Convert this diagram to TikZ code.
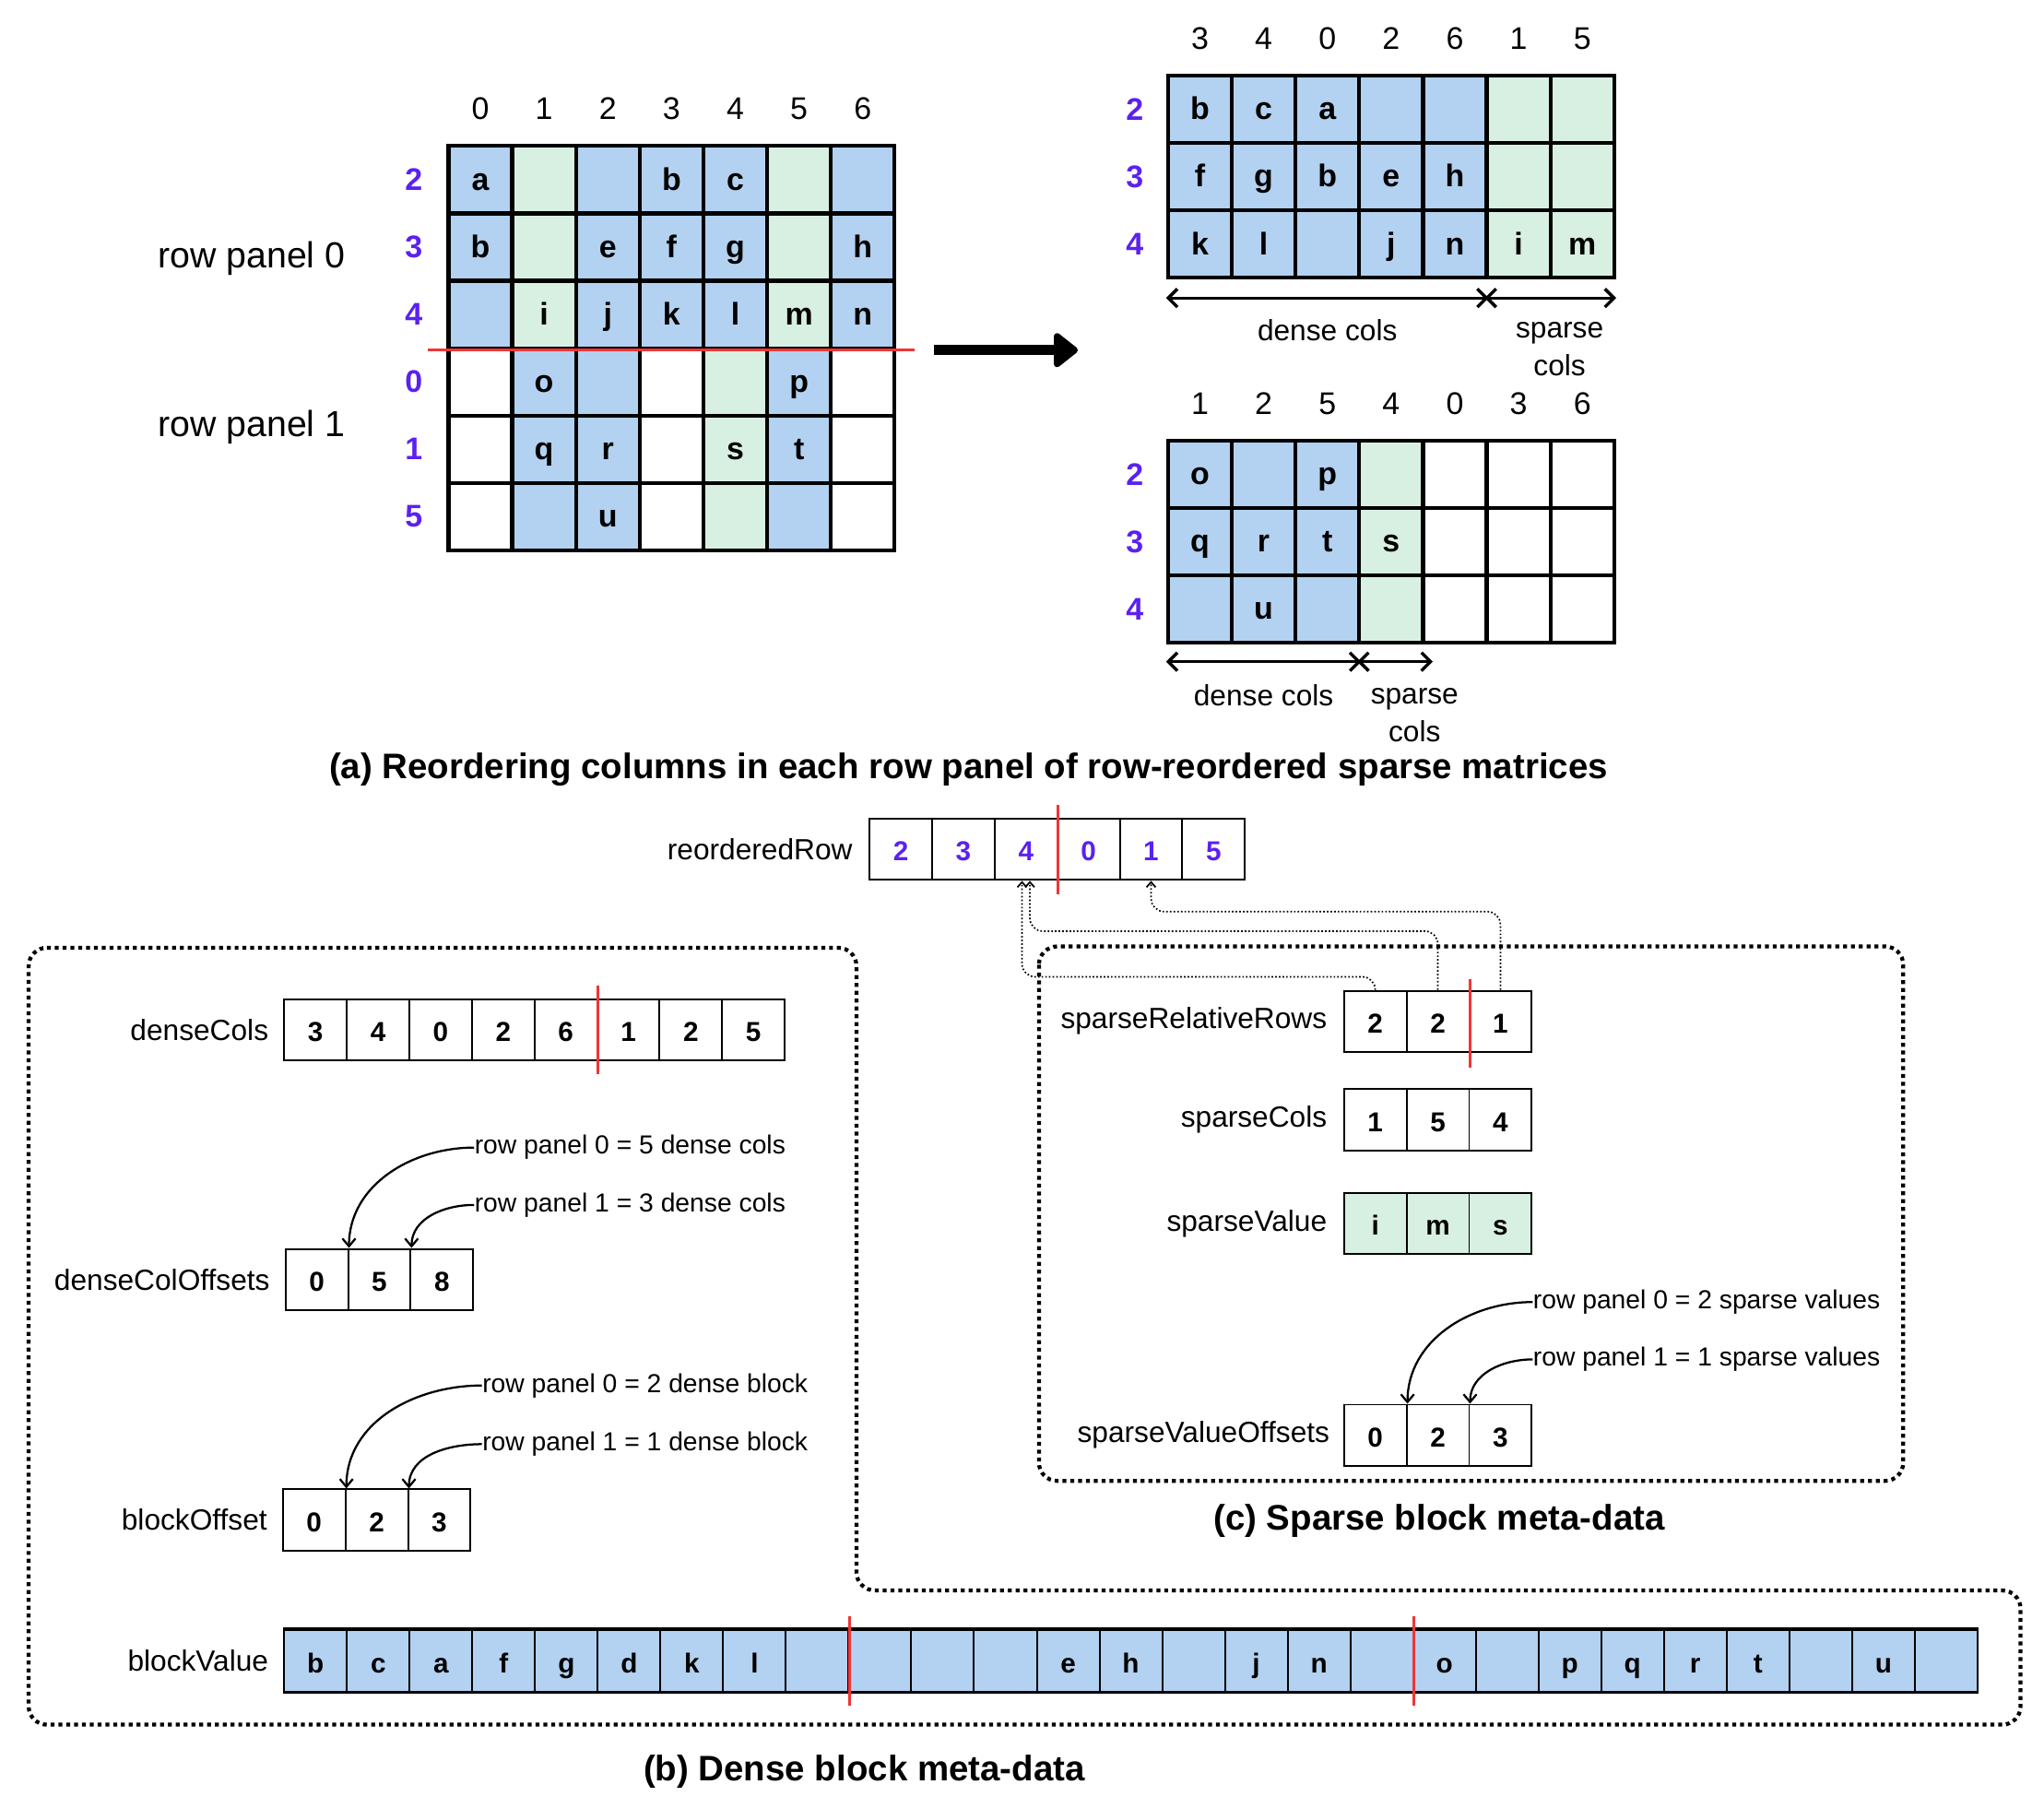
\documentclass[tikz,border=0pt]{standalone}
\usepackage{fontspec}
\setmainfont{Liberation Sans}
\usetikzlibrary{calc}
\usetikzlibrary{positioning}
\usetikzlibrary{arrows.meta}

\definecolor{cellB}{HTML}{B3D1F0}
\definecolor{cellG}{HTML}{D8F0E1}
\definecolor{cellW}{HTML}{FFFFFF}
\definecolor{rowid}{HTML}{5B21F0}
\definecolor{cutred}{HTML}{F03535}

\tikzset{
  mycell/.style={
    draw=black,
    line width=1.5pt,
    minimum width=24.45pt,
    minimum height=25.85pt,
    inner sep=0pt,
    text height=9.5pt,
    text depth=1.5pt,
    font=\fontsize{12}{14}\selectfont\bfseries
  },
  myarray/.style={
    draw=black,
    line width=0.7pt,
    minimum width=24pt,
    minimum height=23.5pt,
    inner sep=0pt,
    text height=10pt,
    text depth=1pt,
    font=\fontsize{10.5}{12}\selectfont\bfseries
  },
  myhead/.style={
    inner sep=0pt,
    font=\fontsize{12}{14}\selectfont
  },
  myrowid/.style={
    inner sep=0pt,
    text=rowid,
    font=\fontsize{12}{14}\selectfont\bfseries
  },
  mylabel/.style={
    inner sep=0pt,
    font=\fontsize{11.2}{14.5}\selectfont
  },
  mynote/.style={
    inner sep=0pt,
    anchor=west,
    font=\fontsize{10}{12}\selectfont
  },
  myarrow/.style={
    line width=0.8pt,
    -{Straight Barb[length=3pt,width=5pt]}
  },
  mycut/.style={
    draw=cutred,
    line width=1pt
  },
  myspan/.style={
    line width=1.2pt,
    {Straight Barb[length=3.5pt,width=7pt]}-{Straight Barb[length=3.5pt,width=7pt]}
  },
  mybox/.style={
    line width=1.5pt,
    dash pattern=on 1.5pt off 1.5pt,
    rounded corners=7pt
  },
  mylink/.style={
    line width=0.6pt,
    dash pattern=on 0.6pt off 0.8pt,
    rounded corners=5pt,
    -{Straight Barb[length=2pt,width=3.5pt]}
  },
  mycaption/.style={
    inner sep=0pt,
    font=\fontsize{13.6}{16}\selectfont\bfseries
  },
}

\begin{document}
\begin{tikzpicture}[x=0.5pt, y=-0.5pt]
  \useasboundingbox (0,0) rectangle (1568,1396);

  % original matrix
  \foreach \r/\cells in {
    0/{B/a,G/{},B/{},B/b,B/c,G/{},B/{}},
    1/{B/b,G/{},B/e,B/f,B/g,G/{},B/h},
    2/{B/{},G/i,B/j,B/k,B/l,G/m,B/n},
    3/{W/{},B/o,B/{},W/{},G/{},B/p,W/{}},
    4/{W/{},B/q,B/r,W/{},G/s,B/t,W/{}},
    5/{W/{},B/{},B/u,W/{},G/{},B/{},W/{}}} {
    \foreach \f/\t [count=\c from 0] in \cells {
      \node[mycell, fill=cell\f] (orig-\r-\c) at ({368.45+48.9*\c},{137.85+51.7*\r}) {\t};
    }
  }
  \foreach \lab [count=\c from 0] in {0,1,2,3,4,5,6}
    \node[myhead] (orig-h\c) at ([yshift=13.5pt]orig-0-\c.north) {\lab};
  \foreach \lab [count=\r from 0] in {2,3,4,0,1,5}
    \node[myrowid] (orig-r\r) at ([xshift=-12.5pt]orig-\r-0.west) {\lab};
  \draw[mycut] ([xshift=-7pt]orig-2-0.south west) -- ([xshift=7pt]orig-2-6.south east);

  \node[mylabel, font=\fontsize{13.9}{16}\selectfont] (panel0) at (193,198) {row panel 0};
  \node[mylabel, font=\fontsize{13.9}{16}\selectfont] (panel1) at (193,328) {row panel 1};

  \coordinate (shift-from) at ([xshift=14.5pt]orig-2-6.south east);
  \coordinate (shift-to)   at ([xshift=55pt]shift-from);
  \draw[line width=4pt, -{Triangle[length=10pt,width=15pt,round]}] (shift-from) -- (shift-to);

  % row panel 0 after reordering
  \foreach \r/\cells in {
    0/{B/b,B/c,B/a,B/{},B/{},G/{},G/{}},
    1/{B/f,B/g,B/b,B/e,B/h,G/{},G/{}},
    2/{B/k,B/l,B/{},B/j,B/n,G/i,G/m}} {
    \foreach \f/\t [count=\c from 0] in \cells {
      \node[mycell, fill=cell\f] (rp0-\r-\c) at ({920.45+48.9*\c},{83.85+51.7*\r}) {\t};
    }
  }
  \foreach \lab [count=\c from 0] in {3,4,0,2,6,1,5}
    \node[myhead] (rp0-h\c) at ([yshift=13.5pt]rp0-0-\c.north) {\lab};
  \foreach \lab [count=\r from 0] in {2,3,4}
    \node[myrowid] (rp0-r\r) at ([xshift=-12pt]rp0-\r-0.west) {\lab};
  \draw[myspan] ([yshift=-7pt]rp0-2-0.south west) -- ([yshift=-7pt]rp0-2-4.south east);
  \draw[myspan] ([yshift=-7pt]rp0-2-5.south west) -- ([yshift=-7pt]rp0-2-6.south east);
  \node[mylabel] (rp0-dense)  at ([yshift=-19.5pt]$(rp0-2-0.south west)!0.5!(rp0-2-4.south east)$) {dense cols};
  \node[mylabel, align=center] (rp0-sparse) at ([xshift=3.5pt,yshift=-26.75pt]$(rp0-2-5.south west)!0.5!(rp0-2-6.south east)$) {sparse\\cols};

  % row panel 1 after reordering
  \foreach \r/\cells in {
    0/{B/o,B/{},B/p,G/{},W/{},W/{},W/{}},
    1/{B/q,B/r,B/t,G/s,W/{},W/{},W/{}},
    2/{B/{},B/u,B/{},G/{},W/{},W/{},W/{}}} {
    \foreach \f/\t [count=\c from 0] in \cells {
      \node[mycell, fill=cell\f] (rp1-\r-\c) at ({920.45+48.9*\c},{363.85+51.7*\r}) {\t};
    }
  }
  \foreach \lab [count=\c from 0] in {1,2,5,4,0,3,6}
    \node[myhead] (rp1-h\c) at ([yshift=13.5pt]rp1-0-\c.north) {\lab};
  \foreach \lab [count=\r from 0] in {2,3,4}
    \node[myrowid] (rp1-r\r) at ([xshift=-12pt]rp1-\r-0.west) {\lab};
  \draw[myspan] ([yshift=-6.5pt]rp1-2-0.south west) -- ([yshift=-6.5pt]rp1-2-2.south east);
  \draw[myspan] ([yshift=-6.5pt]rp1-2-3.south west) -- ([xshift=3pt,yshift=-6.5pt]rp1-2-3.south east);
  \node[mylabel] (rp1-dense)  at ([yshift=-19.5pt]$(rp1-2-0.south west)!0.5!(rp1-2-2.south east)$) {dense cols};
  \node[mylabel, align=center] (rp1-sparse) at ([xshift=9pt,yshift=-27pt]rp1-2-3.south) {sparse\\cols};

  \node[mycaption] (cap-a) at (743,590) {(a) Reordering columns in each row panel of row-reordered sparse matrices};

  % reorderedRow
  \foreach \v [count=\i from 0] in {2,3,4,0,1,5}
    \node[myarray, text=rowid] (rr-\i) at ({691+48*\i},651.5) {\v};
  \node[mylabel, left=6pt of rr-0] (rr-label) {reorderedRow};
  \draw[mycut] ([yshift=5pt]rr-2.north east) -- ([yshift=-5pt]rr-2.south east);

  % dense block meta-data
  \foreach \v [count=\i from 0] in {3,4,0,2,6,1,2,5}
    \node[myarray] (dc-\i) at ({242+48*\i},790) {\v};
  \node[mylabel, left=5.5pt of dc-0] (dc-label) {denseCols};
  \draw[mycut] ([yshift=5pt]dc-4.north east) -- ([yshift=-5pt]dc-4.south east);

  \foreach \v [count=\i from 0] in {0,5,8}
    \node[myarray] (dco-\i) at ({243+48*\i},981.5) {\v};
  \node[mylabel, left=5.5pt of dco-0] (dco-label) {denseColOffsets};
  \node[mynote] (dco-note0) at ([yshift=38.5pt]dco-2.north east) {row panel 0 = 5 dense cols};
  \node[mynote] (dco-note1) at ([yshift=16.5pt]dco-2.north east) {row panel 1 = 3 dense cols};
  \draw[myarrow] (dco-note0.west) to[out=180, in=90] (dco-0.north east);
  \draw[myarrow] (dco-note1.west) to[out=180, in=90] (dco-1.north east);

  \foreach \v [count=\i from 0] in {0,2,3}
    \node[myarray] (bo-\i) at ({241+48*\i},1166) {\v};
  \node[mylabel, left=5.5pt of bo-0] (bo-label) {blockOffset};
  \node[mynote] (bo-note0) at ([xshift=4pt,yshift=39.5pt]bo-2.north east) {row panel 0 = 2 dense block};
  \node[mynote] (bo-note1) at ([xshift=4pt,yshift=17pt]bo-2.north east) {row panel 1 = 1 dense block};
  \draw[myarrow] (bo-note0.west) to[out=180, in=90] (bo-0.north east);
  \draw[myarrow] (bo-note1.west) to[out=180, in=90] (bo-1.north east);

  \foreach \v [count=\i from 0] in {b,c,a,f,g,d,k,l,{},{},{},{},e,h,{},j,n,{},o,{},p,q,r,t,{},u,{}}
    \node[myarray, fill=cellB, minimum width=24.05pt] (bv-\i) at ({242.05+48.11*\i},1274) {\v};
  \draw[line width=1.3pt] (bv-0.north west) -- (bv-26.north east);
  \draw[line width=1.3pt] (bv-0.south west) -- (bv-26.south east);
  \node[mylabel, left=5.5pt of bv-0] (bv-label) {blockValue};
  \draw[mycut] ([yshift=5pt]bv-8.north east) -- ([yshift=-5pt]bv-8.south east);
  \draw[mycut] ([yshift=5pt]bv-17.north east) -- ([yshift=-5pt]bv-17.south east);

  % sparse block meta-data
  \foreach \v [count=\i from 0] in {2,2,1}
    \node[myarray] (srr-\i) at ({1055+48*\i},783.5) {\v};
  \node[mylabel, left=6pt of srr-0] (srr-label) {sparseRelativeRows};
  \draw[mycut] ([yshift=4pt]srr-1.north east) -- ([yshift=-5.5pt]srr-1.south east);

  \foreach \v [count=\i from 0] in {1,5,4}
    \node[myarray] (sc-\i) at ({1055+48*\i},859) {\v};
  \node[mylabel, left=6pt of sc-0] (sc-label) {sparseCols};

  \foreach \v [count=\i from 0] in {i,m,s}
    \node[myarray, fill=cellG] (sv-\i) at ({1055+48*\i},938.5) {\v};
  \node[mylabel, left=6pt of sv-0] (sv-label) {sparseValue};

  \foreach \v [count=\i from 0] in {0,2,3}
    \node[myarray] (svo-\i) at ({1055+48*\i},1101) {\v};
  \node[mylabel, left=5pt of svo-0] (svo-label) {sparseValueOffsets};
  \node[mynote] (svo-note0) at ([yshift=39pt]svo-2.north east) {row panel 0 = 2 sparse values};
  \node[mynote] (svo-note1) at ([yshift=17pt]svo-2.north east) {row panel 1 = 1 sparse values};
  \draw[myarrow] (svo-note0.west) to[out=180, in=90] (svo-0.north east);
  \draw[myarrow] (svo-note1.west) to[out=180, in=90] (svo-1.north east);

  \draw[mylink] (srr-0.north) -- ([yshift=5pt]srr-0.north) -| ([xshift=-1.5pt]rr-2.south);
  \draw[mylink] (srr-1.north) -- ([yshift=22.5pt]srr-1.north) -| ([xshift=1.5pt]rr-2.south);
  \draw[mylink] (srr-2.north) -- ([yshift=30pt]srr-2.north) -| (rr-4.south);

  % frames and captions
  \draw[mybox] (797,726) rectangle (1460,1136);
  \draw[mybox] (22,727) -- (657,727) -- (657,1220) -- (1550,1220) -- (1550,1323) -- (22,1323) -- cycle;
  \node[mycaption] (cap-c) at (1104,1167) {(c) Sparse block meta-data};
  \node[mycaption] (cap-b) at (663,1359) {(b) Dense block meta-data};
\end{tikzpicture}
\end{document}
